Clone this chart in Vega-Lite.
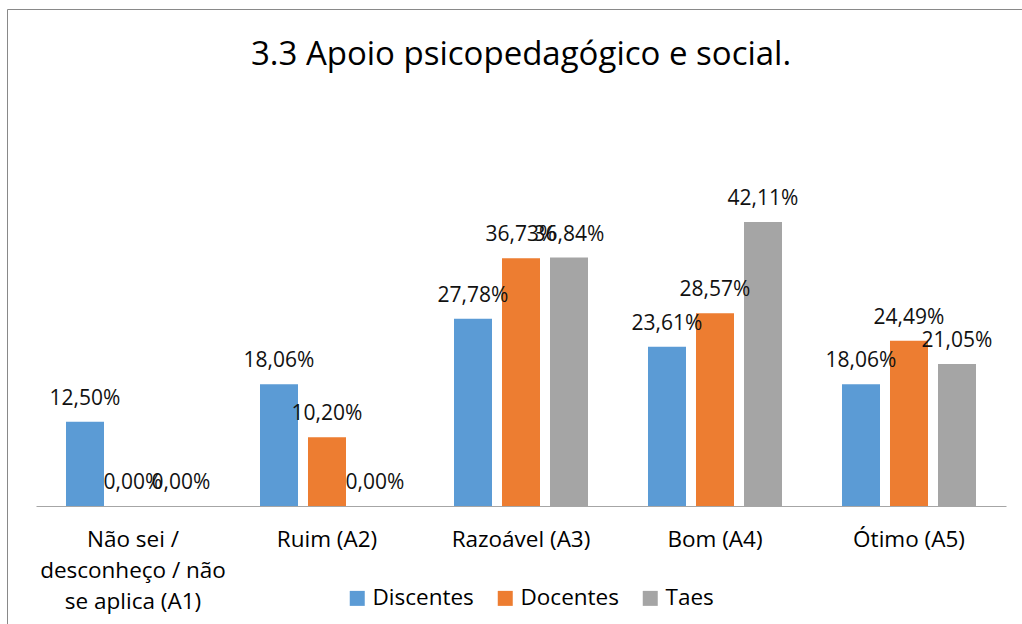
{
  "$schema": "https://vega.github.io/schema/vega-lite/v6.json",
  "width": 1030,
  "height": 640,
  "autosize": {"type": "none"},
  "padding": {"left": 7, "top": 9, "right": 0, "bottom": 0},
  "background": "white",
  "title": {
    "text": "3.3 Apoio psicopedagógico e social.",
    "orient": "top",
    "anchor": "middle",
    "frame": "group",
    "baseline": "alphabetic",
    "offset": -89,
    "dx": -1,
    "font": "Open Sans",
    "fontSize": 33,
    "fontWeight": "normal",
    "color": "#000000"
  },
  "config": {
    "view": {"stroke": "#898989", "strokeWidth": 1},
    "font": "Open Sans"
  },
  "data": {
    "values": [
      {"category": "Não sei / desconheço / não se aplica (A1)", "series": "Discentes", "value": 12.50, "label": "12,50%"},
      {"category": "Não sei / desconheço / não se aplica (A1)", "series": "Docentes", "value": 0.00, "label": "0,00%"},
      {"category": "Não sei / desconheço / não se aplica (A1)", "series": "Taes", "value": 0.00, "label": "0,00%"},
      {"category": "Ruim (A2)", "series": "Discentes", "value": 18.06, "label": "18,06%"},
      {"category": "Ruim (A2)", "series": "Docentes", "value": 10.20, "label": "10,20%"},
      {"category": "Ruim (A2)", "series": "Taes", "value": 0.00, "label": "0,00%"},
      {"category": "Razoável (A3)", "series": "Discentes", "value": 27.78, "label": "27,78%"},
      {"category": "Razoável (A3)", "series": "Docentes", "value": 36.73, "label": "36,73%"},
      {"category": "Razoável (A3)", "series": "Taes", "value": 36.84, "label": "36,84%"},
      {"category": "Bom (A4)", "series": "Discentes", "value": 23.61, "label": "23,61%"},
      {"category": "Bom (A4)", "series": "Docentes", "value": 28.57, "label": "28,57%"},
      {"category": "Bom (A4)", "series": "Taes", "value": 42.11, "label": "42,11%"},
      {"category": "Ótimo (A5)", "series": "Discentes", "value": 18.06, "label": "18,06%"},
      {"category": "Ótimo (A5)", "series": "Docentes", "value": 24.49, "label": "24,49%"},
      {"category": "Ótimo (A5)", "series": "Taes", "value": 21.05, "label": "21,05%"}
    ]
  },
  "encoding": {
    "x": {
      "field": "category",
      "type": "nominal",
      "sort": ["Não sei / desconheço / não se aplica (A1)", "Ruim (A2)", "Razoável (A3)", "Bom (A4)", "Ótimo (A5)"],
      "scale": {"range": [29, 999], "paddingInner": 0, "paddingOuter": 0},
      "axis": {
        "title": null,
        "labelAngle": 0,
        "ticks": false,
        "domainColor": "#a6a6a6",
        "domainWidth": 1,
        "offset": -143,
        "labelFont": "Open Sans",
        "labelFontSize": 22.5,
        "labelColor": "#000000",
        "labelLineHeight": 31,
        "labelPadding": 22,
        "labelLimit": 400,
        "labelExpr": "datum.value == 'Não sei / desconheço / não se aplica (A1)' ? ['Não sei /', 'desconheço / não', 'se aplica (A1)'] : datum.value"
      }
    },
    "xOffset": {
      "field": "series",
      "type": "nominal",
      "sort": ["Discentes", "Docentes", "Taes"],
      "scale": {"paddingInner": 0.2083, "paddingOuter": 0.625}
    },
    "y": {
      "field": "value",
      "type": "quantitative",
      "scale": {"domain": [0, 45], "range": [497, 193.5], "nice": false, "zero": true},
      "axis": null
    }
  },
  "layer": [
    {
      "mark": {"type": "bar"},
      "encoding": {
        "color": {
          "field": "series",
          "type": "nominal",
          "sort": ["Discentes", "Docentes", "Taes"],
          "scale": {"domain": ["Discentes", "Docentes", "Taes"], "range": ["#5b9bd5", "#ed7d31", "#a5a5a5"]},
          "legend": {
            "title": null,
            "orient": "none",
            "direction": "horizontal",
            "legendX": 339,
            "legendY": 578,
            "symbolType": "square",
            "symbolSize": 225,
            "symbolStrokeWidth": 0,
            "labelFont": "Open Sans",
            "labelFontSize": 22.5,
            "labelColor": "#000000",
            "labelOffset": 4,
            "columnPadding": 20
          }
        }
      }
    },
    {
      "mark": {"type": "text", "baseline": "alphabetic", "dy": -17, "font": "Open Sans", "fontSize": 21, "color": "#111111"},
      "encoding": {
        "text": {"field": "label", "type": "nominal"}
      }
    }
  ]
}
